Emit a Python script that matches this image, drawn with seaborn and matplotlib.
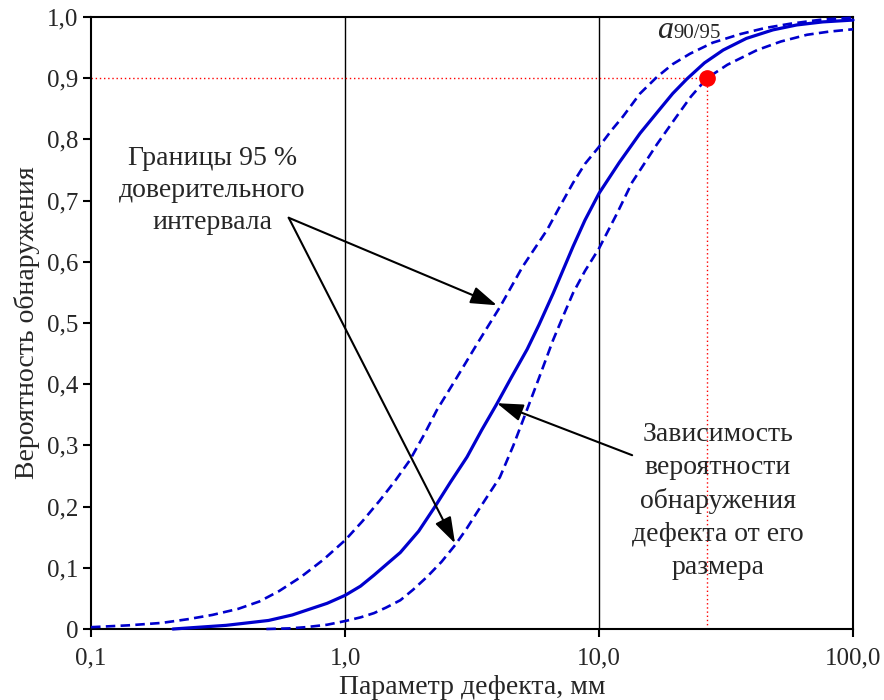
import matplotlib
matplotlib.use('Agg')
import matplotlib.pyplot as plt
import seaborn as sns
import pandas as pd

# POD curve
pod_x = [0.21, 0.34, 0.5, 0.62, 0.85, 1.0, 1.15, 1.3, 1.45, 1.65, 1.95, 2.26, 2.6, 3.02, 3.45, 3.96,
         4.5, 5.21, 5.8, 6.59, 7.9, 8.8, 10, 12, 14.5, 17, 19.5, 22.2, 26, 30.8, 38, 48.4, 60, 76, 100]
pod_y = [0.0, 0.006, 0.014, 0.023, 0.042, 0.055, 0.07, 0.088, 0.105, 0.125, 0.16, 0.2, 0.24, 0.281, 0.325, 0.368,
         0.41, 0.457, 0.497, 0.548, 0.625, 0.668, 0.712, 0.762, 0.81, 0.845, 0.875, 0.899, 0.925, 0.946, 0.965, 0.979, 0.987, 0.992, 0.995]

# upper 95 % bound
upper_x = [0.1, 0.14, 0.19, 0.24, 0.3, 0.38, 0.46, 0.55, 0.67, 0.82, 1.0, 1.17, 1.37, 1.58, 1.8, 2.05, 2.3, 2.7,
           3.3, 4.07, 5.0, 6.24, 7.0, 7.9, 8.8, 10, 11.2, 12.4, 14.5, 16.9, 19.5, 22.8, 28, 35.9, 45, 56.5, 76, 100]
upper_y = [0.003, 0.006, 0.01, 0.016, 0.023, 0.033, 0.045, 0.062, 0.085, 0.113, 0.145, 0.176, 0.21, 0.243, 0.276, 0.318, 0.358, 0.405,
           0.465, 0.526, 0.592, 0.652, 0.69, 0.729, 0.76, 0.788, 0.815, 0.837, 0.875, 0.902, 0.923, 0.94, 0.958, 0.972, 0.982, 0.989, 0.996, 0.999]

# lower 95 % bound
lower_x = [0.49, 0.6, 0.7, 0.85, 1.0, 1.15, 1.3, 1.45, 1.65, 1.85, 2.1, 2.4, 2.71, 3.0, 3.3, 3.65, 4.07, 4.6, 5.2,
           5.8, 6.59, 7.2, 7.9, 8.8, 10, 11.8, 13.5, 16.9, 20, 23, 26.6, 32, 41.9, 52, 65.9, 80, 100]
lower_y = [0.0, 0.001, 0.003, 0.007, 0.013, 0.019, 0.026, 0.035, 0.047, 0.064, 0.085, 0.11, 0.137, 0.163, 0.19, 0.218, 0.248, 0.3, 0.358,
           0.41, 0.472, 0.51, 0.549, 0.585, 0.622, 0.68, 0.73, 0.792, 0.835, 0.87, 0.9, 0.922, 0.946, 0.96, 0.971, 0.976, 0.98]

# a90/95 point
a90_x = 26.6
a90_y = 0.9

x_ticks = [0.1, 1, 10, 100]
x_labels = ['0,1', '1,0', '10,0', '100,0']
y_ticks = [0, 0.1, 0.2, 0.3, 0.4, 0.5, 0.6, 0.7, 0.8, 0.9, 1.0]
y_labels = ['0', '0,1', '0,2', '0,3', '0,4', '0,5', '0,6', '0,7', '0,8', '0,9', '1,0']

sns.set_style('ticks')
plt.rcParams['font.family'] = ['Liberation Serif', 'DejaVu Serif']

blue = '#0000CD'

fig = plt.figure(figsize=(8.84, 7), dpi=100)
ax = fig.add_axes([0.103, 0.1014, 0.862, 0.8743])

# reference lines
ax.axvline(1, color='black', lw=1, zorder=1)
ax.axvline(10, color='black', lw=1, zorder=1)
ax.plot([0.1, a90_x], [a90_y, a90_y], color='red', lw=1, linestyle=(0, (1, 2)), zorder=1)
ax.plot([a90_x, a90_x], [0, a90_y], color='red', lw=1, linestyle=(0, (1, 2)), zorder=1)

df_pod = pd.DataFrame({'x': pod_x, 'y': pod_y})
df_up = pd.DataFrame({'x': upper_x, 'y': upper_y})
df_lo = pd.DataFrame({'x': lower_x, 'y': lower_y})

sns.lineplot(data=df_up, x='x', y='y', ax=ax, color=blue, lw=1.9,
             linestyle=(0, (3.6, 2.0)), clip_on=False, zorder=3)
sns.lineplot(data=df_lo, x='x', y='y', ax=ax, color=blue, lw=1.9,
             linestyle=(0, (3.6, 2.0)), clip_on=False, zorder=3)
sns.lineplot(data=df_pod, x='x', y='y', ax=ax, color=blue, lw=2.3,
             clip_on=False, zorder=3)

ax.plot([a90_x], [a90_y], 'o', color='red', markersize=11, zorder=4)

ax.set_xscale('log')
ax.set_xlim(0.1, 100)
ax.set_ylim(0, 1.0)
ax.set_xticks(x_ticks)
ax.set_xticklabels(x_labels)
ax.minorticks_off()
ax.set_yticks(y_ticks)
ax.set_yticklabels(y_labels)
ax.tick_params(axis='both', labelsize=18, length=6, width=1.5, color='black', pad=3)
ax.tick_params(axis='x', pad=7)
for s in ax.spines.values():
    s.set_linewidth(1.5)
    s.set_color('black')

ax.set_xlabel('Параметр дефекта, мм', fontsize=20, labelpad=4)
ax.set_ylabel('Вероятность обнаружения', fontsize=20, labelpad=5)

# annotations
arrow = dict(arrowstyle='-|>,head_length=1.0,head_width=0.33', mutation_scale=16,
             color='black', lw=1.5, shrinkA=0, shrinkB=0)
ax.text(0.30, 0.717, 'Границы 95 %\nдоверительного\nинтервала', fontsize=20,
        ha='center', va='center', linespacing=1.36)
ax.annotate('', xy=(3.96, 0.529), xytext=(0.6, 0.672), arrowprops=arrow)
ax.annotate('', xy=(2.71, 0.14), xytext=(0.6, 0.672), arrowprops=arrow)

ax.text(29.4, 0.209, 'Зависимость\nвероятности\nобнаружения\nдефекта от его\nразмера', fontsize=20,
        ha='center', va='center', linespacing=1.42)
ax.annotate('', xy=(3.96, 0.369), xytext=(13.5, 0.284), arrowprops=arrow)

ax.text(16.9, 0.965, 'a', fontsize=23, style='italic', ha='left', va='baseline')
ax.text(19.6, 0.965, '90/95', fontsize=15, ha='left', va='baseline')

fig.savefig('out.png', dpi=100)
